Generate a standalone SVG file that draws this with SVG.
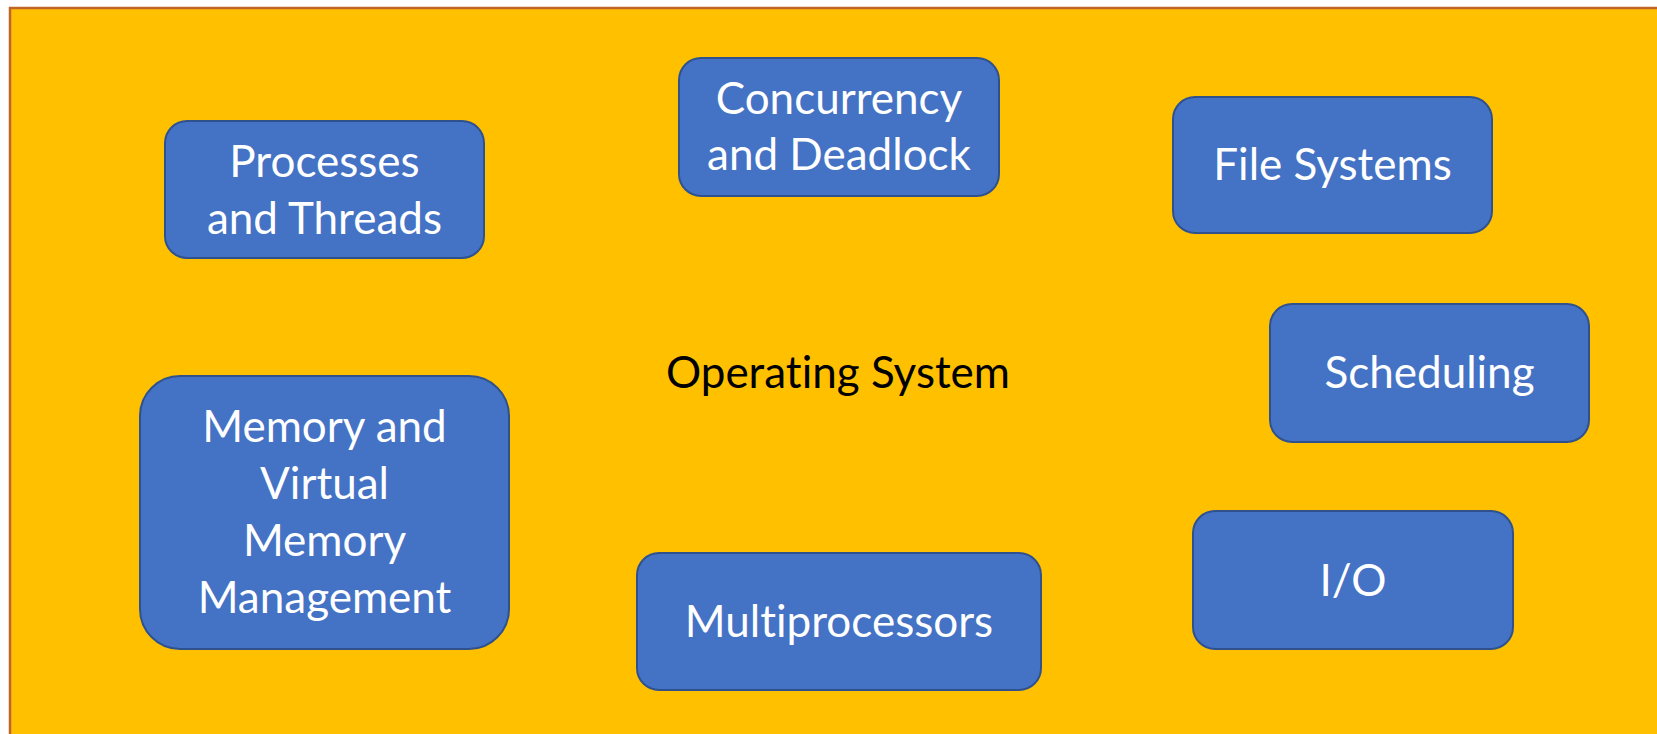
<svg xmlns="http://www.w3.org/2000/svg" width="1657" height="734" viewBox="0 0 1657 734">
<style>
.node rect{fill:#4472C4;stroke:#2F528F;stroke-width:2}
.node text{fill:#FFFFFF;font-family:Lato,"Open Sans","Liberation Sans",sans-serif;font-size:44px;text-anchor:middle;font-variant-ligatures:none}
.title{fill:#000000;font-family:Lato,"Open Sans","Liberation Sans",sans-serif;font-size:44px;text-anchor:middle;font-variant-ligatures:none}
</style>
<rect x="0" y="0" width="1657" height="734" fill="#FFFFFF"/>
<rect id="background" x="10" y="8" width="1660" height="740" fill="#FFC000" stroke="#C0652A" stroke-width="2.5"/>
<text class="title" x="838" y="388">Operating System</text>
<g id="connectors"></g>
<g id="processes" class="node">
<rect x="165" y="121" width="319" height="137" rx="22"/>
<text x="324.5" y="177">Processes</text>
<text x="324.5" y="234">and Threads</text>
</g>
<g id="concurrency" class="node">
<rect x="679" y="58" width="320" height="138" rx="22"/>
<text x="839" y="114">Concurrency</text>
<text x="839" y="170">and Deadlock</text>
</g>
<g id="filesystems" class="node">
<rect x="1173" y="97" width="319" height="136" rx="22"/>
<text x="1332.5" y="180">File Systems</text>
</g>
<g id="scheduling" class="node">
<rect x="1270" y="304" width="319" height="138" rx="22"/>
<text x="1429.5" y="388">Scheduling</text>
</g>
<g id="memory" class="node">
<rect x="140" y="376" width="369" height="273" rx="40"/>
<text x="324.5" y="442">Memory and</text>
<text x="324.5" y="499">Virtual</text>
<text x="324.5" y="556">Memory</text>
<text x="324.5" y="613">Management</text>
</g>
<g id="multiprocessors" class="node">
<rect x="637" y="553" width="404" height="137" rx="22"/>
<text x="839" y="637">Multiprocessors</text>
</g>
<g id="io" class="node">
<rect x="1193" y="511" width="320" height="138" rx="22"/>
<text x="1353" y="596">I/O</text>
</g>
</svg>
